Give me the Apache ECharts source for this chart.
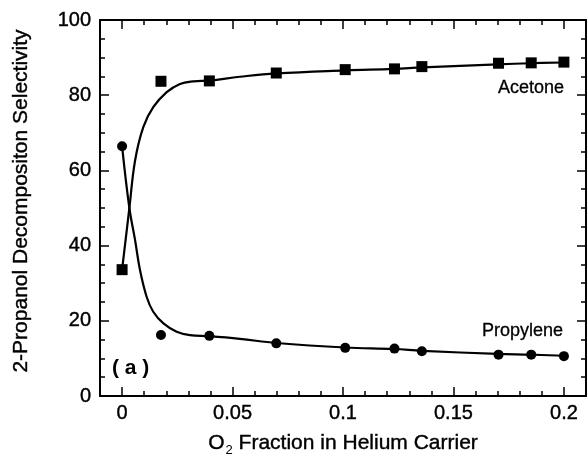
<!DOCTYPE html>
<html>
<head>
<meta charset="utf-8">
<script src="https://cdn.jsdelivr.net/npm/echarts@6/dist/echarts.min.js"></script>
<style>
  html, body { margin: 0; padding: 0; background: #fff; }
  #chart { width: 588px; height: 456px; }
</style>
</head>
<body>
<div id="chart"></div>
<script>
// O2 fraction in the helium carrier for each measurement
const o2Fraction = [0, 0.0176, 0.0395, 0.0698, 0.101, 0.1233, 0.1357, 0.1704, 0.1852, 0.2];
// Measured selectivities (%)
const acetoneSel = [33.6, 83.7, 83.8, 85.9, 86.8, 87.0, 87.6, 88.5, 88.6, 88.8];
const propyleneSel = [66.4, 16.2, 16.0, 14.0, 12.8, 12.6, 11.9, 11.0, 11.0, 10.6];

// Fitted trend curves
const acetoneFitX = [0, 0.0033, 0.0059, 0.0096, 0.0141, 0.0202, 0.0262, 0.0322, 0.0395, 0.0533, 0.0698, 0.101, 0.123, 0.136, 0.17, 0.185, 0.2];
const acetoneFitY = [33.6, 50.0, 62.7, 71.5, 76.8, 80.8, 83.0, 83.7, 83.9, 84.9, 85.8, 86.6, 87.0, 87.4, 88.2, 88.5, 88.7];
const propyleneFitX = [0, 0.0033, 0.0059, 0.0081, 0.0111, 0.0141, 0.0187, 0.0247, 0.0307, 0.0395, 0.0533, 0.0698, 0.101, 0.123, 0.136, 0.17, 0.185, 0.2];
const propyleneFitY = [66.4, 50.0, 41.4, 33.5, 26.4, 22.4, 19.3, 17.1, 16.2, 15.9, 15.2, 14.1, 12.9, 12.5, 12.0, 11.2, 11.0, 10.7];

// Axis ticks
const xMajorTicks = [0, 0.05, 0.1, 0.15, 0.2];
const xMinorStep = 0.01;
const yMajorStep = 20;

const zip = (xs, ys) => xs.map((x, i) => [x, ys[i]]);

const FONT = "'Liberation Sans', Arial, Helvetica, sans-serif";
const INK = '#000';
// thin outline to give the lettering a slightly heavier stroke
const HEAVY = { textBorderColor: INK, textBorderWidth: 0.4 };

function xAxisDef(pos, major, withLine) {
  const a = {
    type: 'value', min: -0.01, max: 0.21, position: pos,
    axisLine: { show: withLine, onZero: false, lineStyle: { color: INK, width: 2 } },
    splitLine: { show: false },
    axisLabel: { show: false },
    axisTick: { show: true, inside: true, length: major ? 9 : 5, lineStyle: { color: INK, width: 1.5 } }
  };
  if (major) {
    a.axisTick.customValues = xMajorTicks;
    if (pos === 'bottom') {
      a.axisLabel = Object.assign({
        show: true, customValues: xMajorTicks, color: INK, fontSize: 20, fontFamily: FONT, margin: 7,
        formatter: v => String(+v.toFixed(2))
      }, HEAVY);
    }
  } else {
    a.interval = xMinorStep;
  }
  return a;
}

function yAxisDef(pos, withLabels) {
  return {
    type: 'value', min: 0, max: 100, interval: yMajorStep, position: pos,
    axisLine: { show: true, onZero: false, lineStyle: { color: INK, width: 2 } },
    splitLine: { show: false },
    axisTick: { show: true, inside: true, length: 9, lineStyle: { color: INK, width: 1.5 } },
    minorTick: { show: true, splitNumber: 4, length: 5, lineStyle: { color: INK, width: 1.5 } },
    minorSplitLine: { show: false },
    axisLabel: withLabels
      ? Object.assign({ show: true, color: INK, fontSize: 20, fontFamily: FONT, margin: 9 }, HEAVY)
      : { show: false }
  };
}

const chart = echarts.init(document.getElementById('chart'), null, { renderer: 'canvas' });

chart.setOption({
  animation: false,
  backgroundColor: '#fff',
  grid: { left: 100, top: 20, width: 486, height: 376, containLabel: false },
  xAxis: [
    xAxisDef('bottom', true, true),
    xAxisDef('bottom', false, false),
    xAxisDef('top', true, true),
    xAxisDef('top', false, false)
  ],
  yAxis: [
    yAxisDef('left', true),
    yAxisDef('right', false)
  ],
  series: [
    {
      name: 'Acetone fit', type: 'line', xAxisIndex: 0, yAxisIndex: 0,
      data: zip(acetoneFitX, acetoneFitY), smooth: 0.4, showSymbol: false, symbol: 'none',
      lineStyle: { color: INK, width: 2.2 }, z: 2
    },
    {
      name: 'Propylene fit', type: 'line', xAxisIndex: 0, yAxisIndex: 0,
      data: zip(propyleneFitX, propyleneFitY), smooth: 0.4, showSymbol: false, symbol: 'none',
      lineStyle: { color: INK, width: 2.2 }, z: 2
    },
    {
      name: 'Acetone', type: 'scatter', xAxisIndex: 0, yAxisIndex: 0,
      data: zip(o2Fraction, acetoneSel), symbol: 'rect', symbolSize: 11,
      itemStyle: { color: INK, opacity: 1 }, z: 3
    },
    {
      name: 'Propylene', type: 'scatter', xAxisIndex: 0, yAxisIndex: 0,
      data: zip(o2Fraction, propyleneSel), symbol: 'circle', symbolSize: 10,
      itemStyle: { color: INK, opacity: 1 }, z: 3
    }
  ],
  graphic: [
    {
      type: 'text', x: 21, y: 201, rotation: Math.PI / 2,
      style: Object.assign({
        text: '2-Propanol Decompositon Selectivity',
        font: "21px " + FONT, fill: INK, align: 'center', verticalAlign: 'middle'
      }, { stroke: INK, lineWidth: 0.4 })
    },
    {
      type: 'text', x: 343, y: 433,
      style: {
        text: '{o|O}{s|2}{t| Fraction in Helium Carrier}',
        align: 'center', verticalAlign: 'top',
        rich: {
          o: { fontSize: 21, fontFamily: FONT, fill: INK, stroke: INK, lineWidth: 0.4, lineHeight: 21, verticalAlign: 'top' },
          t: { fontSize: 21, fontFamily: FONT, fill: INK, stroke: INK, lineWidth: 0.4, lineHeight: 21, verticalAlign: 'top' },
          s: { fontSize: 13, fontFamily: FONT, fill: INK, lineHeight: 13, verticalAlign: 'top', padding: [11, 0, 0, 1] }
        }
      }
    },
    {
      type: 'text', x: 564, y: 88,
      style: { text: 'Acetone', font: "18px " + FONT, fill: INK, stroke: INK, lineWidth: 0.3, align: 'right', verticalAlign: 'middle' }
    },
    {
      type: 'text', x: 563, y: 331,
      style: { text: 'Propylene', font: "18px " + FONT, fill: INK, stroke: INK, lineWidth: 0.3, align: 'right', verticalAlign: 'middle' }
    },
    {
      type: 'text', x: 112, y: 368,
      style: { text: '( a )', font: "bold 21px " + FONT, fill: INK, align: 'left', verticalAlign: 'middle' }
    }
  ]
});
</script>
</body>
</html>
